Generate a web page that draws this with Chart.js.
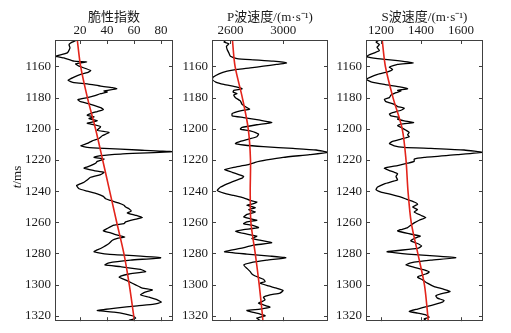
<!DOCTYPE html>
<html>
<head>
<meta charset="utf-8">
<script src="https://cdn.jsdelivr.net/npm/chart.js@4"></script>
<style>
  html, body { margin: 0; background: #fff; }
  #wrap { position: relative; width: 511px; height: 333px; overflow: hidden; }
  #wrap canvas { position: absolute; top: 0; }
</style>
</head>
<body>
<div id="wrap">
  <canvas id="c1" width="180" height="333" style="left:0px"></canvas>
  <canvas id="c2" width="178" height="333" style="left:157px"></canvas>
  <canvas id="c3" width="180" height="333" style="left:311px"></canvas>
</div>
<script>
// depth axis (ms) shared by all three logs
const DEPTH_MIN = 1143, DEPTH_MAX = 1323.5;
const DEPTH_TICKS = [1160, 1180, 1200, 1220, 1240, 1260, 1280, 1300, 1320];

// brittleness index log
const BRIT_T = [
  1143, 1144.9, 1146, 1148.1, 1151.3, 1153.4, 1154.5, 1156.6, 1157, 1158.3,
  1159.8, 1162.6, 1164, 1165.1, 1166.8, 1168.9, 1170.4, 1171.1, 1172.6, 1173.6,
  1174.3, 1175.7, 1176.4, 1177.4, 1178.9, 1180, 1181.3, 1182.6, 1184.3, 1186.4,
  1187.7, 1188.9, 1190.2, 1191.3, 1192.3, 1193.4, 1194.9, 1196.4, 1197.4, 1198.7,
  1200.9, 1202.3, 1204.5, 1206.2, 1207.7, 1209.4, 1210.9, 1211.9, 1212.6, 1213.6,
  1214.7, 1216.2, 1217.2, 1218.3, 1219.4, 1220.9, 1222.1, 1223.6, 1225.3, 1226.8,
  1227.9, 1229.4, 1231.1, 1232.8, 1234.3, 1236.4, 1238.5, 1240, 1241.7, 1243.4,
  1244.9, 1246, 1247.7, 1249.1, 1250.2, 1251.3, 1252.8, 1254, 1255.5, 1257,
  1258.3, 1259.8, 1260.9, 1261.9, 1264, 1265.5, 1266.8, 1267.9, 1269.4, 1270.4,
  1271.5, 1273.6, 1276.8, 1278.9, 1280.4, 1281.7, 1282.8, 1284.3, 1286, 1287.4,
  1288.5, 1290.2, 1291.7, 1293.2, 1294.5, 1295.3, 1296.6, 1298.1, 1300.2, 1302.3,
  1303.4, 1305.1, 1306.6, 1308.1, 1309.8, 1311.3, 1312.6, 1313.6, 1315.1, 1316.6,
  1317.7, 1318.9, 1320, 1321.5, 1323
];
const BRIT = [
  17.5, 13.1, 11.9, 12.6, 10.6, 2, 8.1, 15.6, 24.9, 16.8,
  19.3, 27.9, 25.4, 20.5, 15.6, 11.1, 15.6, 25.4, 35.3, 44,
  47.2, 37.8, 40.2, 35.3, 30.4, 25.4, 18.5, 20.5, 27.9, 35.3,
  37.3, 32.8, 27.9, 25.4, 30.4, 26.7, 32.8, 25.4, 30.4, 35.3,
  32.8, 41.5, 36.5, 34.1, 29.1, 25.4, 20.5, 25.4, 37.8, 62.5,
  88.6, 50.1, 35.3, 30.4, 37.8, 32.8, 31.6, 27.9, 23, 30.4,
  37.8, 35.3, 27.9, 25.4, 23, 17.5, 19.3, 25.4, 32.8, 37.3,
  39, 42.7, 48.9, 52.6, 53.8, 56.3, 58, 55.1, 61.2, 66.2,
  60, 53.8, 52.6, 45.2, 40.2, 37.3, 42.7, 46.4, 53.1, 47.7,
  44, 41.5, 35.3, 30.4, 40.2, 64.9, 79.8, 57.5, 41.5, 38.5,
  50.1, 64.9, 68.6, 56.3, 50.1, 49.1, 52.6, 56.3, 61.2, 66.2,
  73.6, 67.4, 64.9, 71.1, 77.3, 80.2, 74.8, 62.5, 46.4, 32.8,
  45.2, 53.8, 58.8, 61.2, 56.3
];

// P-wave velocity log
const VP_T = [
  1143, 1144.3, 1145.5, 1147, 1149.1, 1151.3, 1153.4, 1154.9, 1155.7, 1156.6,
  1157.7, 1158.7, 1159.8, 1160.9, 1161.9, 1163, 1164.7, 1166.8, 1168.3, 1170,
  1171.5, 1173.2, 1174.3, 1175.3, 1176.4, 1177.4, 1178.3, 1180, 1182.1, 1184.3,
  1186.4, 1187.4, 1188.5, 1190.2, 1191.7, 1192.8, 1194.5, 1196, 1197.4, 1199.1,
  1200.2, 1201.3, 1203.4, 1205.1, 1206.6, 1208.1, 1209.4, 1210.4, 1211.5, 1212.6,
  1213.6, 1215.1, 1216.6, 1218.3, 1220, 1221.5, 1223.2, 1224.7, 1226.2, 1227.9,
  1229.4, 1230.6, 1231.7, 1233.2, 1235.3, 1237.4, 1239.6, 1241.3, 1242.8, 1244.3,
  1246, 1247, 1248.1, 1249.1, 1250.6, 1251.9, 1253.4, 1254.9, 1256.6, 1257.7,
  1258.7, 1259.8, 1260.9, 1261.9, 1263.4, 1264.7, 1265.7, 1267.2, 1268.9, 1270.4,
  1271.5, 1273.2, 1274.7, 1276.8, 1278.9, 1280.4, 1281.7, 1282.8, 1284.3, 1286,
  1287.4, 1289.6, 1291.7, 1293.2, 1294.5, 1295.3, 1296.6, 1298.1, 1299.1, 1300.9,
  1302.3, 1303.8, 1305.5, 1306.6, 1308.1, 1309.8, 1310.9, 1311.9, 1313, 1314.5,
  1315.7, 1316.6, 1317.9, 1318.9, 1320, 1321.5, 1323
];
const VP = [
  2570, 2550, 2588, 2570, 2575, 2588, 2600, 2650, 2775, 2925,
  3025, 2950, 2850, 2750, 2650, 2575, 2513, 2470, 2462, 2488,
  2550, 2650, 2688, 2625, 2620, 2650, 2625, 2638, 2675, 2688,
  2725, 2745, 2675, 2613, 2613, 2700, 2825, 2913, 2800, 2688,
  2675, 2750, 2813, 2800, 2738, 2675, 2638, 2700, 2850, 3075,
  3250, 3338, 3200, 3000, 2875, 2788, 2725, 2625, 2555, 2613,
  2663, 2700, 2688, 2638, 2575, 2525, 2500, 2550, 2625, 2700,
  2750, 2800, 2775, 2725, 2788, 2738, 2788, 2725, 2700, 2750,
  2800, 2725, 2700, 2763, 2813, 2700, 2638, 2700, 2800, 2763,
  2825, 2913, 2775, 2675, 2555, 2725, 2900, 3020, 2875, 2750,
  2700, 2725, 2750, 2763, 2788, 2813, 2850, 2863, 2825, 2888,
  2950, 3000, 2975, 2900, 2850, 2863, 2838, 2813, 2850, 2900,
  2825, 2725, 2775, 2825, 2863, 2800, 2825
];

// S-wave velocity log
const VS_T = [
  1143, 1144.3, 1146, 1147.7, 1149.8, 1151.3, 1152.8, 1153.8, 1154.9, 1156.2,
  1157.7, 1158.7, 1160.4, 1161.9, 1163.4, 1165.1, 1167.2, 1168.3, 1169.8, 1171.5,
  1173.2, 1174.3, 1175.3, 1175.7, 1176.8, 1178.3, 1180, 1181.1, 1182.6, 1184.3,
  1185.7, 1186.8, 1188.1, 1189.6, 1190.6, 1191.7, 1192.8, 1193.8, 1194.9, 1196,
  1197, 1198.1, 1199.1, 1200.9, 1202.3, 1203.8, 1205.1, 1206.6, 1208.1, 1209.4,
  1210.9, 1211.9, 1212.6, 1213.6, 1215.1, 1216.6, 1218.3, 1219.4, 1220.9, 1222.1,
  1223.6, 1225.3, 1226.8, 1227.9, 1228.9, 1230.6, 1232.8, 1233.8, 1235.3, 1237.4,
  1239.1, 1240.6, 1242.1, 1243.8, 1245.5, 1247, 1248.5, 1250.2, 1251.9, 1253.4,
  1255.5, 1257, 1258.7, 1260.4, 1261.9, 1263.4, 1264.7, 1265.5, 1267.2, 1268.9,
  1270.4, 1271.9, 1273.6, 1275.3, 1276.8, 1278.9, 1280.4, 1281.7, 1282.8, 1284.3,
  1286, 1287.4, 1288.9, 1290.6, 1291.9, 1293.2, 1294.5, 1295.3, 1297, 1299.1,
  1301.3, 1303, 1304.5, 1306, 1307.2, 1308.7, 1310.2, 1311.3, 1312.6, 1314,
  1315.7, 1317.2, 1318.3, 1319.4, 1320.9, 1322.1, 1323
];
const VS = [
  1192, 1175, 1192, 1180, 1192, 1167, 1137, 1130, 1183, 1283,
  1363, 1283, 1242, 1258, 1233, 1183, 1142, 1127, 1150, 1217,
  1300, 1333, 1283, 1300, 1275, 1250, 1242, 1217, 1225, 1266,
  1283, 1316, 1300, 1258, 1242, 1250, 1291, 1283, 1316, 1363,
  1300, 1283, 1300, 1325, 1341, 1333, 1341, 1300, 1258, 1242,
  1266, 1316, 1449, 1615, 1708, 1582, 1416, 1366, 1366, 1333,
  1283, 1217, 1242, 1266, 1283, 1275, 1283, 1258, 1217, 1183,
  1175, 1200, 1250, 1300, 1333, 1366, 1383, 1358, 1383, 1366,
  1399, 1424, 1391, 1366, 1349, 1333, 1300, 1283, 1333, 1396,
  1366, 1349, 1383, 1403, 1383, 1230, 1333, 1482, 1574, 1449,
  1349, 1325, 1366, 1416, 1441, 1424, 1391, 1383, 1408, 1432,
  1466, 1515, 1545, 1499, 1474, 1482, 1515, 1507, 1474, 1432,
  1383, 1341, 1383, 1424, 1441, 1416, 1424
];

// red trend curves
const TREND_T    = [1143, 1160, 1180, 1200, 1220, 1240, 1260, 1280, 1300, 1320, 1323.5];
const BRIT_TREND = [18, 20.5, 25.5, 31.5, 36.8, 42, 47.2, 52.5, 56.5, 59.8, 60.3];
const VP_TREND   = [2615, 2635, 2690, 2735, 2752, 2750, 2755, 2788, 2818, 2843, 2846];
const VS_TREND   = [1206, 1222, 1260, 1306, 1325, 1335, 1351, 1384, 1417, 1434, 1436];

const BRIT_TICKS = [20, 40, 60, 80];
const VP_TICKS   = [2600, 3000];
const VS_TICKS   = [1200, 1400, 1600];

const FONT = '"Liberation Serif", "Times New Roman", "Noto Sans CJK SC", serif';
const INK = '#1a1a1a';
Chart.defaults.font.family = FONT;
Chart.defaults.font.size = 13;
Chart.defaults.color = INK;

function toPts(vals, depths) { return vals.map((v, i) => ({ x: v, y: depths[i] })); }

// box round the plot with inward ticks on all four sides
const boxTicks = {
  id: 'boxTicks',
  afterDraw(chart) {
    const { ctx, chartArea: a, scales: { x, y } } = chart;
    const L = 4;
    ctx.save();
    ctx.strokeStyle = '#404040';
    ctx.lineWidth = 1;
    ctx.strokeRect(Math.round(a.left) + 0.5, Math.round(a.top) + 0.5, Math.round(a.width) - 1, Math.round(a.height) - 1);
    ctx.beginPath();
    x.ticks.forEach(t => {
      const px = Math.round(x.getPixelForValue(t.value)) + 0.5;
      ctx.moveTo(px, a.top); ctx.lineTo(px, a.top + L);
      ctx.moveTo(px, a.bottom); ctx.lineTo(px, a.bottom - L);
    });
    y.ticks.forEach(t => {
      const py = Math.round(y.getPixelForValue(t.value)) + 0.5;
      ctx.moveTo(a.left, py); ctx.lineTo(a.left + L, py);
      ctx.moveTo(a.right, py); ctx.lineTo(a.right - L, py);
    });
    ctx.stroke();
    ctx.restore();
  }
};

// "t/ms" with italic t, only on the first log
const depthTitle = {
  id: 'depthTitle',
  afterDraw(chart) {
    const ctx = chart.ctx;
    ctx.save();
    ctx.translate(18, 177);
    ctx.rotate(-Math.PI / 2);
    ctx.fillStyle = INK;
    ctx.textBaseline = 'middle';
    ctx.font = 'italic 13px ' + FONT;
    const w1 = ctx.measureText('t').width;
    ctx.font = '13px ' + FONT;
    const w2 = ctx.measureText('/ms').width;
    const x0 = -(w1 + w2) / 2;
    ctx.font = 'italic 13px ' + FONT;
    ctx.fillText('t', x0, 0);
    ctx.font = '13px ' + FONT;
    ctx.fillText('/ms', x0 + w1, 0);
    ctx.restore();
  }
};

function makeLog(id, title, depths, vals, trend, xMin, xMax, xTicks, padRight, extra) {
  return new Chart(document.getElementById(id), {
    type: 'scatter',
    data: {
      datasets: [
        { data: toPts(trend, TREND_T), showLine: true, borderColor: '#e3241b', borderWidth: 1.6, pointRadius: 0, tension: 0.3 },
        { data: toPts(vals, depths), showLine: true, borderColor: '#000', borderWidth: 1.3, pointRadius: 0, tension: 0.15 }
      ]
    },
    options: {
      responsive: false, animation: false, events: [],
      layout: { padding: { left: 0, right: padRight, top: 0, bottom: 10 } },
      plugins: { legend: { display: false }, tooltip: { enabled: false } },
      scales: {
        x: {
          type: 'linear', position: 'top', min: xMin, max: xMax,
          afterBuildTicks: s => { s.ticks = xTicks.map(v => ({ value: v })); },
          afterFit: s => { s.height = 40; },
          grid: { display: false, drawTicks: false }, border: { display: false },
          ticks: { padding: 2, callback: v => String(v) },
          title: { display: true, text: title, padding: { top: 10, bottom: 0 } }
        },
        y: {
          type: 'linear', reverse: true, min: DEPTH_MIN, max: DEPTH_MAX,
          afterBuildTicks: s => { s.ticks = DEPTH_TICKS.map(v => ({ value: v })); },
          afterFit: s => { s.width = 55; },
          grid: { display: false, drawTicks: false }, border: { display: false },
          ticks: { padding: 4, callback: v => String(v) }
        }
      }
    },
    plugins: [boxTicks].concat(extra || [])
  });
}

makeLog('c1', '脆性指数', BRIT_T, BRIT, BRIT_TREND, 1.5, 88.9, BRIT_TICKS, 7, [depthTitle]);
makeLog('c2', 'P波速度/(m·s⁻¹)', VP_T, VP, VP_TREND, 2460, 3340, VP_TICKS, 7);
makeLog('c3', 'S波速度/(m·s⁻¹)', VS_T, VS, VS_TREND, 1125, 1710, VS_TICKS, 8);
</script>
</body>
</html>
